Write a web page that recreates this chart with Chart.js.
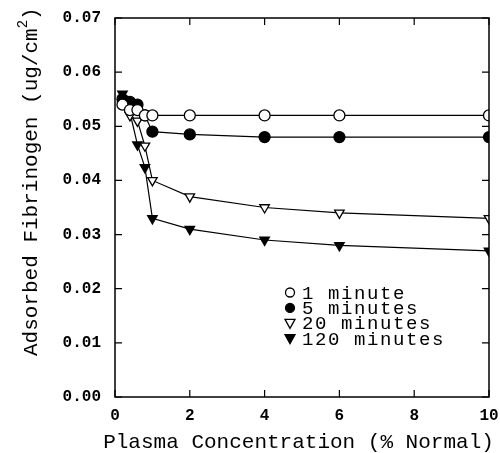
<!DOCTYPE html>
<html>
<head>
<meta charset="utf-8">
<script src="https://cdn.jsdelivr.net/npm/chart.js@4.4.1/dist/chart.umd.min.js"></script>
<style>
html,body{margin:0;padding:0;background:#fff;}
#wrap{width:500px;height:453px;}
</style>
</head>
<body>
<div id="wrap"><canvas id="fibChart" width="500" height="453"></canvas></div>
<script>

const concentrations = [0.2, 0.4, 0.6, 0.8, 1, 2, 4, 6, 10];
const oneMinute = [0.054, 0.053, 0.053, 0.052, 0.052, 0.052, 0.052, 0.052, 0.052];
const fiveMinutes = [0.055, 0.0545, 0.054, 0.052, 0.049, 0.0485, 0.048, 0.048, 0.048];
const twentyMinutes = [0.055, 0.052, 0.051, 0.0464, 0.040, 0.037, 0.035, 0.034, 0.033];
const oneTwentyMinutes = [0.056, 0.0525, 0.0466, 0.0424, 0.033, 0.031, 0.029, 0.028, 0.027];

const seriesNames = ['1 minute', '5 minutes', '20 minutes', '120 minutes'];
const xTicks = [0, 2, 4, 6, 8, 10];
const yTicks = [0, 0.01, 0.02, 0.03, 0.04, 0.05, 0.06, 0.07];
const xTitle = 'Plasma Concentration (% Normal)';
const yTitle = 'Adsorbed Fibrinogen (ug/cm';

const FONT = '"Liberation Mono", "DejaVu Sans Mono", monospace';

function toPoints(ys){
return concentrations.map((x,i)=>({x:x,y:ys[i]}));
}

function makeSet(label, ys, style, filled, rot){
return {
label:label,
data:toPoints(ys),
borderColor:'#000',
borderWidth:1.2,
pointStyle:style,
pointRotation:rot,
pointRadius:5.5,
pointBorderWidth:1.3,
pointBorderColor:'#000',
pointBackgroundColor:filled ? '#000' : '#fff',
tension:0,
fill:false
};
}

// ticks pointing inward on all four sides, frame and axis titles
const frameTicks = {
id:'frameTicks',
afterDraw(chart){
const ctx = chart.ctx;
const a = chart.chartArea;
const xs = chart.scales.x, ys = chart.scales.y;
ctx.save();
ctx.strokeStyle = '#000';
ctx.lineWidth = 1.5;
ctx.strokeRect(a.left, a.top, a.right-a.left, a.bottom-a.top);
ctx.lineWidth = 1.2;
ctx.beginPath();
xTicks.forEach(v=>{
const px = xs.getPixelForValue(v);
ctx.moveTo(px, a.bottom); ctx.lineTo(px, a.bottom-7);
ctx.moveTo(px, a.top); ctx.lineTo(px, a.top+7);
});
yTicks.forEach(v=>{
const py = ys.getPixelForValue(v);
ctx.moveTo(a.left, py); ctx.lineTo(a.left+7, py);
ctx.moveTo(a.right, py); ctx.lineTo(a.right-7, py);
});
ctx.stroke();

ctx.fillStyle = '#000';
ctx.textBaseline = 'alphabetic';

// x axis title
ctx.font = '21px ' + FONT;
ctx.textAlign = 'center';
ctx.fillText(xTitle, 298.5, 448);

// y axis title with a real superscript
ctx.translate(37, 356);
ctx.rotate(-Math.PI/2);
ctx.textAlign = 'left';
ctx.font = '21px ' + FONT;
ctx.fillText(yTitle, 0, 0);
let w = ctx.measureText(yTitle).width;
ctx.font = '14px ' + FONT;
ctx.fillText('2', w, -10);
w += ctx.measureText('2').width;
ctx.font = '21px ' + FONT;
ctx.fillText(')', w, 0);
ctx.restore();
}
};

// legend drawn inside the plot area
const insideLegend = {
id:'insideLegend',
afterDatasetsDraw(chart){
const ctx = chart.ctx;
const x0 = 290, y0 = 292.5, step = 15.4;
ctx.save();
ctx.font = '19px ' + FONT;
ctx.letterSpacing = '1.6px';
ctx.textBaseline = 'middle';
chart.data.datasets.forEach((ds,i)=>{
const y = y0 + i*step;
ctx.fillStyle = ds.pointBackgroundColor;
ctx.strokeStyle = '#000';
ctx.lineWidth = 1.3;
ctx.beginPath();
if(ds.pointStyle==='circle'){
ctx.arc(x0, y, 4.5, 0, Math.PI*2);
}else{
ctx.moveTo(x0-5, y-4); ctx.lineTo(x0+5, y-4); ctx.lineTo(x0, y+5); ctx.closePath();
}
ctx.fill(); ctx.stroke();
ctx.fillStyle = '#000';
ctx.fillText(ds.label, 302, y+1);
});
ctx.restore();
}
};

new Chart(document.getElementById('fibChart'), {
type:'line',
data:{
datasets:[
makeSet(seriesNames[0], oneMinute, 'circle', false, 0),
makeSet(seriesNames[1], fiveMinutes, 'circle', true, 0),
makeSet(seriesNames[2], twentyMinutes, 'triangle', false, 180),
makeSet(seriesNames[3], oneTwentyMinutes, 'triangle', true, 180)
]
},
options:{
responsive:false,
animation:false,
layout:{padding:{top:18, right:11, left:0, bottom:0}},
plugins:{legend:{display:false}, tooltip:{enabled:false}},
scales:{
x:{
type:'linear', min:0, max:10,
afterBuildTicks:s=>{ s.ticks = xTicks.map(v=>({value:v})); },
grid:{display:false, drawTicks:false},
border:{display:false},
ticks:{color:'#000', padding:9, font:{family:FONT, size:16, weight:'bold'}, maxRotation:0},
title:{display:false},
afterFit:s=>{ s.height = 56; s.paddingLeft = 0; s.paddingRight = 0; }
},
y:{
type:'linear', min:0, max:0.07,
afterBuildTicks:s=>{ s.ticks = yTicks.map(v=>({value:v})); },
grid:{display:false, drawTicks:false},
border:{display:false},
ticks:{color:'#000', padding:14, font:{family:FONT, size:16, weight:'bold'}, callback:v=>v.toFixed(2)},
title:{display:false},
afterFit:s=>{ s.width = 115; s.paddingTop = 0; s.paddingBottom = 0; }
}
}
},
plugins:[frameTicks, insideLegend]
});

</script>
</body>
</html>
